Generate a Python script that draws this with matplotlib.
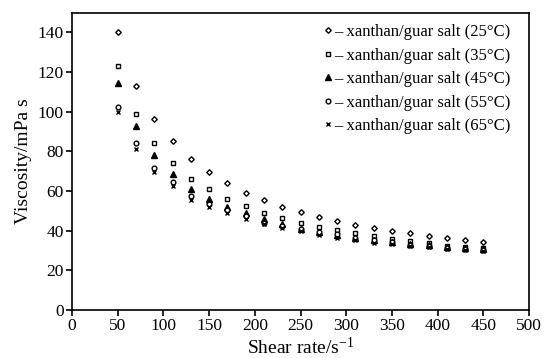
import numpy as np
import matplotlib
matplotlib.use("Agg")
import matplotlib.pyplot as plt

# shear rates, s^-1
shear_rate = list(range(50, 451, 20))

# viscosity readings, mPa s
visc_25 = [140.3, 112.8, 96.2, 85.0, 76.4, 69.7, 63.8, 59.1, 55.4, 52.0, 49.2,
           46.9, 44.7, 42.8, 41.2, 39.8, 38.6, 37.3, 36.3, 35.2, 34.2]
visc_35 = [122.9, 98.8, 84.3, 74.0, 66.3, 60.8, 56.2, 52.3, 49.0, 46.6, 44.0,
           41.8, 40.1, 38.6, 37.4, 35.9, 34.8, 33.7, 32.5, 31.7, 31.1]
visc_45 = [114.5, 92.8, 78.4, 68.5, 61.0, 56.2, 51.8, 48.8, 45.7, 43.5, 41.1,
           39.4, 37.8, 36.5, 35.3, 34.5, 33.4, 32.6, 31.9, 31.2, 30.7]
visc_55 = [102.4, 84.0, 71.5, 64.6, 57.4, 53.5, 50.4, 47.3, 44.0, 42.2, 41.0,
           39.2, 38.1, 36.4, 35.2, 34.4, 32.9, 32.1, 31.2, 30.7, 30.3]
visc_65 = [99.8, 81.1, 69.6, 62.6, 55.4, 51.8, 48.7, 45.7, 43.4, 41.6, 39.9,
           37.8, 36.4, 35.2, 33.6, 33.1, 32.5, 31.7, 30.9, 30.4, 30.0]

labels = ["– xanthan/guar salt (25°C)", "– xanthan/guar salt (35°C)",
          "– xanthan/guar salt (45°C)", "– xanthan/guar salt (55°C)",
          "– xanthan/guar salt (65°C)"]

plt.rcParams["font.family"] = ["Liberation Serif", "DejaVu Serif"]
plt.rcParams["mathtext.fontset"] = "custom"
plt.rcParams["mathtext.rm"] = "Liberation Serif"
plt.rcParams["mathtext.it"] = "Liberation Serif:italic"

fig = plt.figure(figsize=(5.45, 3.58), dpi=100)
ax = fig.add_axes([0.132, 0.134, 0.839, 0.831])

# marker styles for each temperature
styles = [
    dict(marker="D", markersize=2.8, markerfacecolor="white"),
    dict(marker="s", markersize=3.4, markerfacecolor="white"),
    dict(marker="^", markersize=3.8, markerfacecolor="black"),
    dict(marker="o", markersize=3.4, markerfacecolor="white"),
    dict(marker="x", markersize=3.2),
]
series = [visc_25, visc_35, visc_45, visc_55, visc_65]
for vals, st, lab in zip(series, styles, labels):
    ax.plot(shear_rate, vals, linestyle="none", color="black",
            markeredgecolor="black", markeredgewidth=1.0, label=lab, **st)

ax.set_xlim(0, 500)
ax.set_ylim(0, 150)
ax.set_xticks(np.arange(0, 501, 50))
ax.set_yticks(np.arange(0, 141, 20))
ax.tick_params(direction="out", length=4, width=1.2, labelsize=12.5, pad=2)
for sp in ax.spines.values():
    sp.set_linewidth(1.2)

ax.set_xlabel(r"Shear rate/s$^{\mathrm{-1}}$", fontsize=14, labelpad=2)
ax.set_ylabel("Viscosity/mPa s", fontsize=14, labelpad=4)

ax.legend(loc="upper right", frameon=False, fontsize=12,
          handlelength=0.5, handletextpad=0.15, labelspacing=0.45,
          borderaxespad=0.3, bbox_to_anchor=(0.985, 1.0))

fig.savefig("out.png", dpi=100)
plt.close(fig)
